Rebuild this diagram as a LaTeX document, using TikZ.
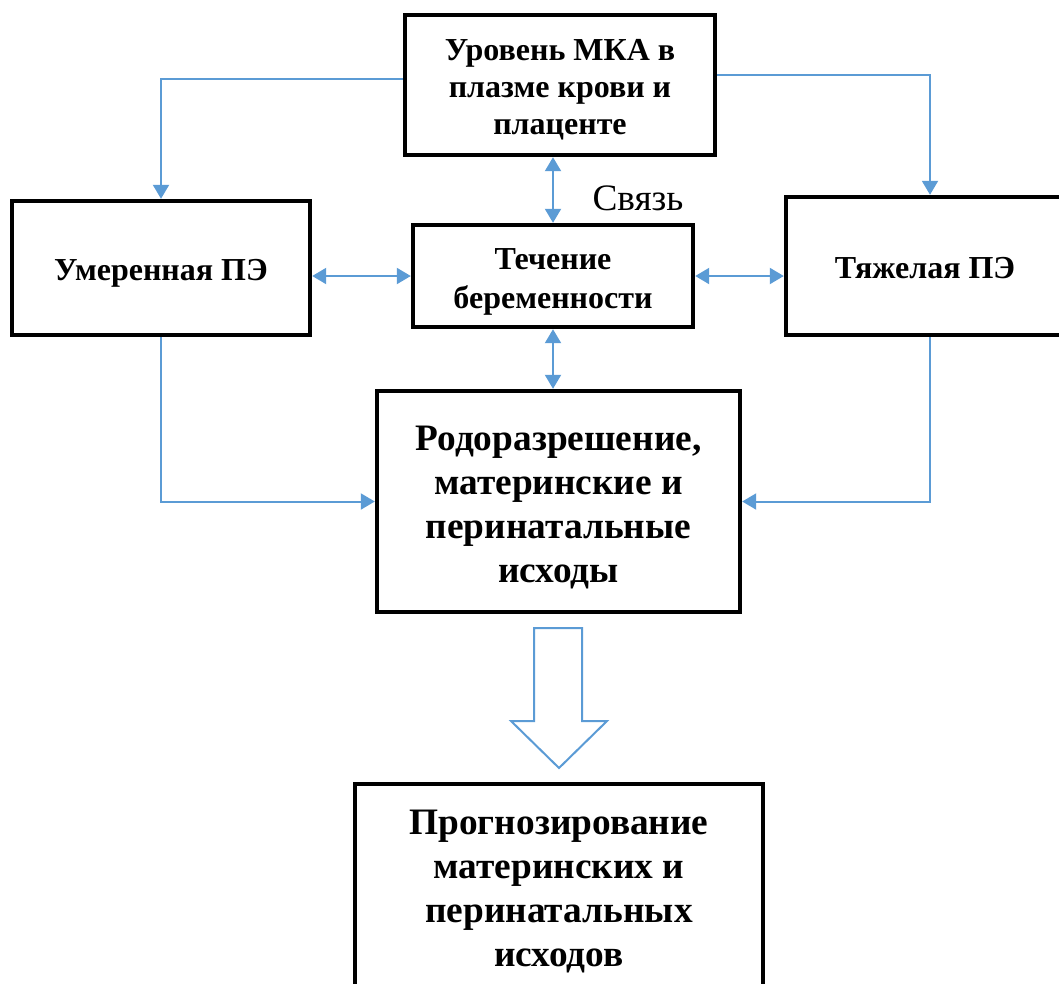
\documentclass[tikz,border=0pt]{standalone}
\usepackage{fontspec}
\setmainfont{Liberation Serif}
\usetikzlibrary{arrows.meta,calc}
\definecolor{lblue}{HTML}{5B9BD5}
\newcommand{\boxtxt}[2]{\raisebox{-#1}[\height][\depth]{\begin{tabular}{@{}c@{}}#2\end{tabular}}}
\begin{document}
\begin{tikzpicture}[x=0.75pt,y=-0.75pt,
 box/.style={draw=black,line width=3.3pt,fill=white,inner sep=0pt,font=\fontsize{24}{28}\selectfont\bfseries},
 cbox/.style={box,font=\fontsize{24}{29}\selectfont\bfseries},
 bigbox/.style={box,font=\fontsize{28}{33}\selectfont\bfseries},
 conn/.style={draw=lblue,line width=1.5pt,-{Triangle[length=10.5pt,width=12pt]}},
 dconn/.style={draw=lblue,line width=1.5pt,{Triangle[length=10.5pt,width=12pt]}-{Triangle[length=10.5pt,width=12pt]}},
 hollow/.style={draw=lblue,line width=1.5pt,fill=white,line join=miter}]
\useasboundingbox (0,0) rectangle (1059,983);
\node[box,minimum width=232.5pt,minimum height=105pt] (top) at (560,85) {\boxtxt{3.75pt}{Уровень МКА в\\плазме крови и\\плаценте}};
\node[box,minimum width=223.5pt,minimum height=100.5pt] (left) at (161,268) {\boxtxt{3.75pt}{Умеренная ПЭ}};
\node[cbox,minimum width=210pt,minimum height=76.5pt] (center) at (553,276) {\boxtxt{4pt}{Течение\\беременности}};
\node[box,minimum width=208.5pt,minimum height=103.5pt] (right) at (925,266) {\boxtxt{3.75pt}{Тяжелая ПЭ}};
\node[bigbox,minimum width=272.25pt,minimum height=165.75pt] (mid) at (558.5,501.5) {\boxtxt{4.5pt}{Родоразрешение,\\материнские и\\перинатальные\\исходы}};
\node[bigbox,minimum width=306pt,minimum height=158.25pt] (bottom) at (559,889.5) {\boxtxt{2pt}{Прогнозирование\\материнских и\\перинатальных\\исходов}};
\node[font=\fontsize{28}{32}\selectfont] (svyaz) at (638,198) {Связь};
% connectors
\draw[conn] ([yshift=4.5pt]top.west) -| (left.north);
\draw[conn] ([yshift=7.5pt]top.east) -| ([xshift=3.75pt]right.north);
\draw[dconn] (center.north |- top.south) -- (center.north);
\draw[dconn] (center.west -| left.east) -- (center.west);
\draw[dconn] (center.east) -- (center.east -| right.west);
\draw[dconn] (center.south) -- (center.south |- mid.north);
\draw[conn] (left.south) |- (mid.west);
\draw[conn] ([xshift=3.75pt]right.south) |- (mid.east);
% hollow block arrow
\draw[hollow] (534,628) -- (582,628) -- (582,721) -- (607,721) -- (559,768) -- (511,721) -- (534,721) -- cycle;
\end{tikzpicture}
\end{document}
